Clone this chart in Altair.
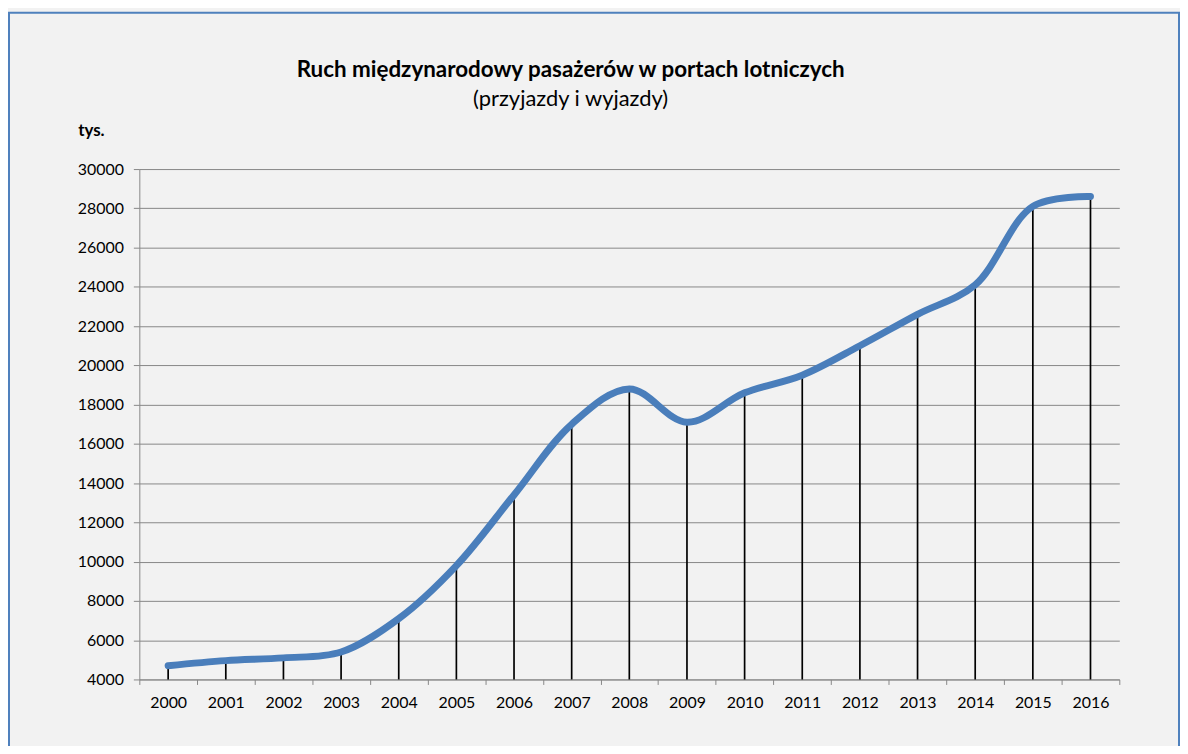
import altair as alt
import pandas as pd

years = [str(y) for y in range(2000, 2017)]
passengers = [4700, 4960, 5100, 5400, 7100, 9800, 13400, 17000, 18800,
              17100, 18600, 19500, 21000, 22600, 24100, 28100, 28600]
y_ticks = list(range(4000, 30001, 2000))
base_value = 4000

df = pd.DataFrame({"rok": years, "wartosc": passengers, "baza": [base_value] * len(years)})

FONT = "Lato"
GRID = "#878787"

x_enc = alt.X("rok:O", sort=years,
              scale=alt.Scale(type="band", paddingInner=0, paddingOuter=0),
              axis=alt.Axis(title=None, labelAngle=0, tickBand="extent", tickSize=5,
                            tickColor=GRID, domainColor=GRID, labelFont=FONT,
                            labelFontSize=16, labelColor="#000000", labelPadding=10,
                            grid=False))
y_enc = alt.Y("wartosc:Q", scale=alt.Scale(domain=[4000, 30000], nice=False, zero=False),
              axis=alt.Axis(values=y_ticks, format="d", title="tys.", titleAngle=0,
                            titleFont=FONT, titleFontSize=17, titleFontWeight="bold",
                            titleColor="#000000", titleX=-62, titleY=-34, titleAlign="left",
                            titleBaseline="alphabetic", labelFont=FONT, labelFontSize=16,
                            labelColor="#000000", labelPadding=10, tickSize=6,
                            tickColor=GRID, domainColor=GRID, gridColor=GRID,
                            gridWidth=1, grid=True))

frame = alt.Chart(pd.DataFrame({"k": [0]})).mark_rect(
    fill=None, stroke="#4f81bd", strokeWidth=2
).encode(x=alt.value(-131), x2=alt.value(1045), y=alt.value(-157), y2=alt.value(600))

rules = alt.Chart(df).mark_rule(color="#000000", strokeWidth=1.7).encode(
    x=x_enc, y=y_enc, y2="baza:Q")

line = alt.Chart(df).mark_line(color="#4a7ebb", strokeWidth=7, interpolate="catmull-rom",
                               strokeCap="round", strokeJoin="round").encode(
    x=x_enc, y=y_enc)

chart = alt.layer(frame, rules, line).properties(
    width=985, height=513,
    title=alt.TitleParams(
        text="Ruch międzynarodowy pasażerów w portach lotniczych",
        subtitle="(przyjazdy i wyjazdy)",
        font=FONT, fontSize=22.5, fontWeight="bold", color="#000000",
        subtitleFont=FONT, subtitleFontSize=22, subtitleColor="#000000",
        subtitlePadding=8, anchor="middle", dx=-59, dy=99, offset=0),
    autosize=alt.AutoSizeParams(type="none"),
    padding={"left": 132, "top": 160, "right": 61, "bottom": 65},
    background="#f2f2f2",
).configure_view(stroke=None)

chart.save("out.html", embed_options={"renderer": "svg", "actions": False})
